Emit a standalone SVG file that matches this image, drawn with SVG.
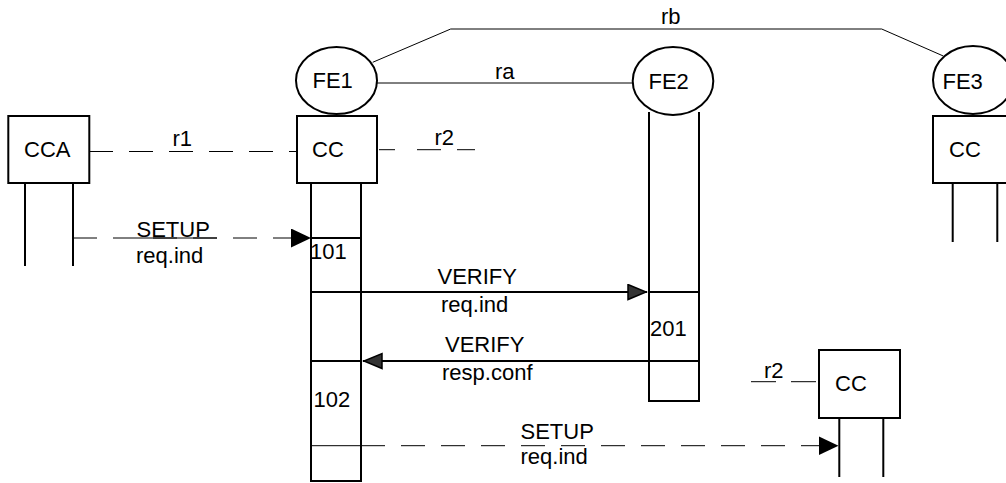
<svg xmlns="http://www.w3.org/2000/svg" width="1006" height="483" viewBox="0 0 1006 483">
<style>
text{font-family:"Liberation Sans",Arial,sans-serif;font-size:22px;fill:#000}
.box{fill:#fff;stroke:#000;stroke-width:2}
.fe{fill:#fff;stroke:#000;stroke-width:2}
.life{fill:none;stroke:#000;stroke-width:2}
.thin{fill:none;stroke:#000;stroke-width:1}
.dash{fill:none;stroke:#000;stroke-width:1;stroke-dasharray:24 16}
.msg{fill:none;stroke:#000;stroke-width:2}
</style>
<defs>
<marker id="ahSolid" markerUnits="userSpaceOnUse" markerWidth="22" markerHeight="20" refX="20" refY="9.5" orient="auto">
<path d="M0,0 L20,9.5 L0,19 Z" fill="#000"/>
</marker>
<marker id="ahVerify" markerUnits="userSpaceOnUse" markerWidth="22" markerHeight="20" refX="20" refY="8.5" orient="auto">
<path d="M1,1 L19,8.5 L1,16 Z" fill="#333" stroke="#000" stroke-width="1.5"/>
</marker>
</defs>

<g id="connectors">
<path class="thin" d="M372.7,62.3 L450.7,29 L881.7,29 L943.3,56"/>
<line class="thin" x1="377" y1="83" x2="633" y2="83"/>
<line class="dash" x1="89" y1="151.5" x2="297" y2="151.5"/>
<path class="thin" d="M379,149.7 H395 M417,149.7 H441 M457,149.7 H475"/>
<path class="thin" d="M751,381.7 H776 M791,381.7 H816"/>
<line class="dash" x1="73" y1="238" x2="311" y2="238" marker-end="url(#ahSolid)"/>
<line x1="137" y1="238" x2="217" y2="238" class="thin"/>
<line class="msg" x1="361" y1="292" x2="647" y2="292" marker-end="url(#ahVerify)"/>
<line class="msg" x1="649" y1="361" x2="363" y2="361" marker-end="url(#ahVerify)"/>
<line class="dash" x1="361" y1="445.7" x2="838.5" y2="445.7" marker-end="url(#ahSolid)"/>
<text x="172.5" y="146">r1</text>
<text x="434.5" y="145">r2</text>
<text x="764" y="378">r2</text>
<text x="661" y="24">rb</text>
<text x="495" y="79">ra</text>
<text x="136.5" y="237">SETUP</text>
<text x="136" y="263">req.ind</text>
<text x="437.5" y="284">VERIFY</text>
<text x="441" y="312">req.ind</text>
<text x="445" y="352">VERIFY</text>
<text x="442" y="380">resp.conf</text>
<text x="520.5" y="439">SETUP</text>
<text x="520.5" y="464">req.ind</text>
</g>

<g id="CCA">
<rect class="box" x="8.3" y="116" width="81" height="67"/>
<path class="life" d="M25,183 V266 M73,183 V266"/>
<text x="24" y="157">CCA</text>
</g>

<g id="FE1">
<ellipse class="fe" cx="336.5" cy="80.5" rx="40.5" ry="33.5"/>
<text x="312.5" y="88">FE1</text>
</g>

<g id="CC1">
<rect class="box" x="297" y="116" width="80" height="67"/>
<text x="312" y="157">CC</text>
<path class="life" d="M311,183 V481 H361 V183 M311,238 H361 M311,292 H361 M311,361 H361"/>
<line class="thin" x1="311" y1="445.7" x2="361" y2="445.7"/>
<text x="310" y="259">101</text>
<text x="313.6" y="407">102</text>
</g>

<g id="FE2">
<path class="life" d="M649,112 V401 H699 V112 M649,292 H699 M649,361 H699"/>
<ellipse class="fe" cx="673" cy="81" rx="40.3" ry="34"/>
<text x="648.5" y="89">FE2</text>
<text x="650" y="336">201</text>
</g>

<g id="FE3">
<ellipse class="fe" cx="973" cy="80" rx="40" ry="34"/>
<text x="942.5" y="89">FE3</text>
</g>

<g id="CC3">
<rect class="box" x="933" y="116" width="80" height="67"/>
<text x="949" y="157">CC</text>
<path class="life" d="M952.7,183 V242 M997.3,183 V242"/>
</g>

<g id="CC4">
<rect class="box" x="819" y="350" width="81" height="68"/>
<text x="835" y="391">CC</text>
<path class="life" d="M839.3,418 V477 M883.3,418 V477"/>
</g>
</svg>
